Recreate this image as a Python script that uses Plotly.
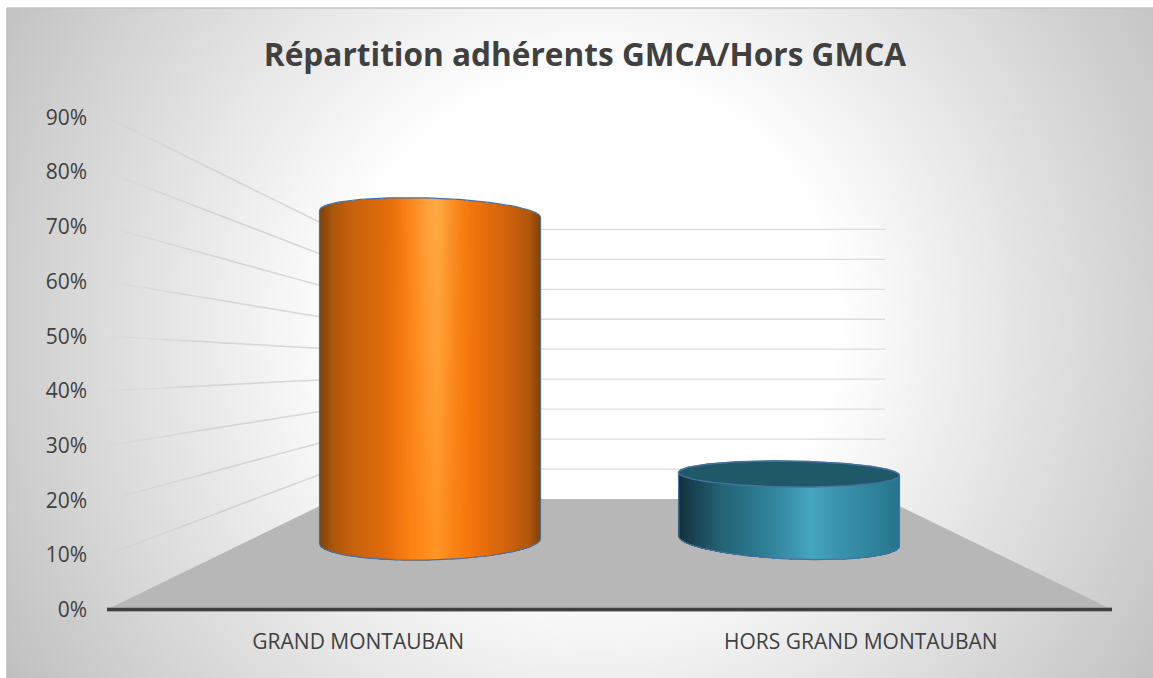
import base64
import numpy as np
import plotly.graph_objects as go

# ---- data ----
categories = ["GRAND MONTAUBAN", "HORS GRAND MONTAUBAN"]
values = [83, 17]
y_ticks = [0, 10, 20, 30, 40, 50, 60, 70, 80, 90]
y_tick_labels = ["0%", "10%", "20%", "30%", "40%", "50%", "60%", "70%", "80%", "90%"]
title_text = "Répartition adhérents GMCA/Hors GMCA"

# ---- canvas / axis calibration ----
W, H = 1153, 678
PX_PER_PCT = 5.467      # front plane: pixels per percentage point
PX_PER_CAT = 502.5      # pixels per category
X0_PX, Y0_PX = 107, 609.5 # pixel of x=-0.5, y=0
x_range = [-X0_PX / PX_PER_CAT - 0.5, (W - X0_PX) / PX_PER_CAT - 0.5]
y_range = [-(H - Y0_PX) / PX_PER_PCT, Y0_PX / PX_PER_PCT]
dx = 1 / PX_PER_CAT
dy = 1 / PX_PER_PCT

# ---- perspective of the 3D box ----
BACK_SCALE = 0.548
BACK_FLOOR = 110.5 * dy
BAR_SCALE = 0.7207
BAR_X_SCALE = 0.7144
BAR_FLOOR = 68.5 * dy
BAR_RX = 110.5 * dx

orange_scale = [[0, "#7f4208"], [0.06, "#a9560c"], [0.14, "#c4600c"], [0.3, "#e26b0a"],
                [0.4, "#fa7f12"], [0.47, "#ff8a1c"], [0.53, "#ff9526"], [0.6, "#fb8416"],
                [0.68, "#f4760c"], [0.85, "#d0620c"], [0.95, "#b0560c"], [1, "#7f4208"]]
blue_scale = [[0, "#12303b"], [0.08, "#1a4655"], [0.2, "#236476"], [0.36, "#2b7a90"],
              [0.5, "#3a91ab"], [0.6, "#47a5c0"], [0.72, "#3a93ae"], [0.88, "#2f839c"],
              [1, "#27728a"]]
bar_styles = [
    dict(scale=orange_scale, top_b=16, top_sk=-3.5, base_b=19, base_sk=2.5, cap=None, glow=True),
    dict(scale=blue_scale, top_b=13, top_sk=-1.5, base_b=18, base_sk=-5, cap="#1f5866", glow=False),
]
EDGE = "#47719f"

svg = f'''<svg xmlns="http://www.w3.org/2000/svg" width="{W-7}" height="{H-8}" preserveAspectRatio="none">
<defs><radialGradient id="g" gradientUnits="userSpaceOnUse" cx="583" cy="315" r="680">
<stop offset="0" stop-color="#ffffff"/><stop offset="0.36" stop-color="#ffffff"/>
<stop offset="1" stop-color="#c0c0c0"/></radialGradient></defs>
<rect width="100%" height="100%" fill="url(#g)"/></svg>'''
bg = "data:image/svg+xml;base64," + base64.b64encode(svg.encode()).decode()

fig = go.Figure()

# floor
fig.add_trace(go.Scatter(
    x=[-0.5, 1.5, 0.5 + BACK_SCALE, 0.5 - BACK_SCALE, -0.5],
    y=[0, 0, BACK_FLOOR, BACK_FLOOR, 0],
    mode="lines", fill="toself", fillcolor="#b7b7b7", line=dict(width=0), hoverinfo="skip"))

# back-wall gridlines
bx, by = [], []
for t in y_ticks[1:]:
    yy = BACK_FLOOR + t * BACK_SCALE
    bx += [0.5 - BACK_SCALE, 0.5 + BACK_SCALE, None]
    by += [yy, yy, None]
fig.add_trace(go.Scatter(x=bx, y=by, mode="lines", line=dict(color="#dcdcdc", width=1.3), hoverinfo="skip"))

# side-wall gridlines, fading towards the front
N_FADE = 12
for i in range(N_FADE):
    f0, f1 = i / N_FADE, (i + 1) / N_FADE
    alpha = min(1, (f0 + 0.04) / 0.5) * 0.5
    lx, ly = [], []
    for t in y_ticks[1:]:
        x_back, y_back = 0.5 - BACK_SCALE, BACK_FLOOR + t * BACK_SCALE
        lx += [-0.5 + (x_back + 0.5) * f0, -0.5 + (x_back + 0.5) * f1, None]
        ly += [t + (y_back - t) * f0, t + (y_back - t) * f1, None]
    fig.add_trace(go.Scatter(x=lx, y=ly, mode="lines",
                             line=dict(color=f"rgba(185,185,185,{alpha:.3f})", width=1.5),
                             hoverinfo="skip"))

# base line of the chart
fig.add_trace(go.Scatter(x=[-0.5, 1.5], y=[0, 0], mode="lines",
                         line=dict(color="#8f8f8f", width=4.5), hoverinfo="skip"))
fig.add_trace(go.Scatter(x=[-0.5, 1.5], y=[0, 0], mode="lines",
                         line=dict(color="#404040", width=3), hoverinfo="skip"))


def arc(cx, cy, b, sk, upper, n=160):
    t = np.linspace(0, np.pi, n)
    sign = 1 if upper else -1
    return cx + BAR_RX * np.cos(t), cy + sk * dy * np.cos(t) + sign * b * dy * np.sin(t)


# cylinders, in an overlay subplot so that they sit above the floor
for i, (val, st) in enumerate(zip(values, bar_styles)):
    cx = 0.5 + (i - 0.5) * BAR_X_SCALE
    y_base = BAR_FLOOR
    y_top = BAR_FLOOR + val * BAR_SCALE

    xs = np.arange(cx - BAR_RX, cx + BAR_RX + dx / 2, dx)
    ys = np.arange(y_base - (st["base_b"] + 6) * dy, y_top + (st["top_b"] + 6) * dy, dy)
    XX, YY = np.meshgrid(xs, ys)
    cost = np.clip((XX - cx) / BAR_RX, -1, 1)
    sint = np.sqrt(1 - cost ** 2)
    upper = y_top + st["top_sk"] * dy * cost + st["top_b"] * dy * sint
    lower = y_base + st["base_sk"] * dy * cost - st["base_b"] * dy * sint
    frac = (XX - (cx - BAR_RX)) / (2 * BAR_RX)
    z = np.where((YY <= upper) & (YY >= lower), frac, np.nan)
    fig.add_trace(go.Heatmap(x=xs, y=ys, z=z, colorscale=st["scale"], zmin=0, zmax=1, showscale=False,
                             hoverinfo="skip", xaxis="x2", yaxis="y2"))
    if st["glow"]:
        hl = np.exp(-((frac - 0.52) / 0.09) ** 2) * np.clip((YY - y_base) / (y_top - y_base), 0, 1)
        z2 = np.where((YY <= upper) & (YY >= lower), hl, np.nan)
        fig.add_trace(go.Heatmap(x=xs, y=ys, z=z2, zmin=0, zmax=1, showscale=False, hoverinfo="skip",
                                 colorscale=[[0, "rgba(255,205,120,0)"], [1, "rgba(255,205,120,0.35)"]],
                                 xaxis="x2", yaxis="y2"))

    ux, uy = arc(cx, y_top, st["top_b"], st["top_sk"], True)
    bx2, by2 = arc(cx, y_base, st["base_b"], st["base_sk"], False)
    if st["cap"]:
        fx, fy = arc(cx, y_top, st["top_b"], st["top_sk"], False)
        ex = np.r_[ux, fx[::-1]]
        ey = np.r_[uy, fy[::-1]]
        fig.add_trace(go.Scatter(x=ex, y=ey, mode="lines", fill="toself", fillcolor=st["cap"],
                                 line=dict(color=EDGE, width=1.4), hoverinfo="skip", xaxis="x2", yaxis="y2"))
    ox = np.r_[ux, bx2[::-1], ux[0]]
    oy = np.r_[uy, by2[::-1], uy[0]]
    fig.add_trace(go.Scatter(x=ox, y=oy, mode="lines", line=dict(color=EDGE, width=1.2),
                             hoverinfo="skip", xaxis="x2", yaxis="y2"))

font = "Open Sans, sans-serif"
fig.update_layout(
    width=W, height=H, margin=dict(l=0, r=0, t=0, b=0), autosize=False,
    paper_bgcolor="white", plot_bgcolor="rgba(0,0,0,0)", showlegend=False,
    title=dict(text=f"<b>{title_text}</b>", x=585 / W, xanchor="center", y=1 - 55 / H, yanchor="middle",
               font=dict(family=font, size=31.6, color="#404040")),
    images=[dict(source=bg, xref="paper", yref="paper", x=7 / W, y=1 - 8 / H, sizex=(W - 7) / W,
                 sizey=(H - 8) / H, sizing="stretch", xanchor="left", yanchor="top", layer="below")],
    shapes=[
        dict(type="line", xref="paper", yref="paper", x0=7 / W, x1=1, y0=1 - 8 / H, y1=1 - 8 / H,
             line=dict(color="#c4c4c4", width=1.5)),
        dict(type="line", xref="paper", yref="paper", x0=7 / W, x1=7 / W, y0=0, y1=1 - 8 / H,
             line=dict(color="#bdbdbd", width=1.5)),
    ],
    xaxis=dict(range=x_range, domain=[0, 1], anchor="free", position=(H - Y0_PX) / H,
               tickmode="array", tickvals=[0, 1], ticktext=categories,
               tickfont=dict(family=font, size=21, color="#404040"),
               ticks="outside", ticklen=13, tickcolor="rgba(0,0,0,0)", showgrid=False, zeroline=False,
               showline=False, fixedrange=True),
    yaxis=dict(range=y_range, domain=[0, 1], anchor="free", position=87 / W,
               tickmode="array", tickvals=y_ticks, ticktext=y_tick_labels,
               tickfont=dict(family=font, size=21, color="#404040"),
               ticks="", showgrid=False, zeroline=False, showline=False, fixedrange=True),
    xaxis2=dict(range=x_range, domain=[0, 1], overlaying="x", anchor="y2", visible=False, fixedrange=True),
    yaxis2=dict(range=y_range, domain=[0, 1], overlaying="y", anchor="x2", visible=False, fixedrange=True),
)
fig.write_html("out.html", config={"displayModeBar": False},
               post_script="document.body.style.margin='0';")
